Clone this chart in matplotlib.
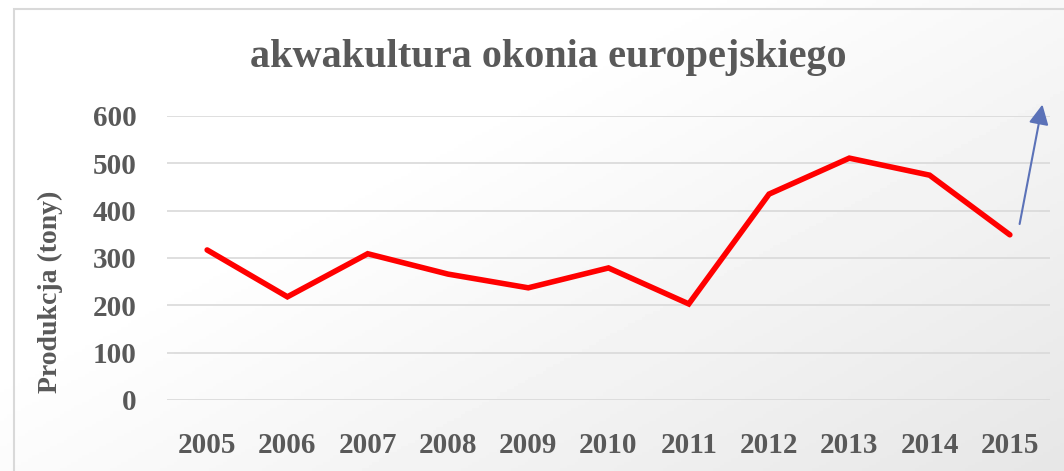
import numpy as np
import matplotlib.pyplot as plt
from matplotlib.patches import Rectangle

# Data
years = ['2005', '2006', '2007', '2008', '2009', '2010',
         '2011', '2012', '2013', '2014', '2015']
production = [317, 218, 309, 266, 237, 279, 203, 435, 511, 475, 349]
yticks = [0, 100, 200, 300, 400, 500, 600]

title = 'akwakultura okonia europejskiego'
ylabel = 'Produkcja (tony)'
text_color = '#595959'

plt.rcParams['font.family'] = ['Liberation Serif', 'DejaVu Serif']

fig = plt.figure(figsize=(10.64, 4.71), dpi=100)

# background gradient (white top-left to light gray bottom-right)
bg = fig.add_axes([0, 0, 1, 1], zorder=0)
gx, gy = np.meshgrid(np.linspace(0, 1, 300), np.linspace(0, 1, 150))
g = np.clip(0.55 * gx + 0.45 * gy - 0.35, 0, 1)
bg.imshow(1 - 0.15 * g, cmap='gray', vmin=0, vmax=1, aspect='auto',
          extent=[0, 1, 0, 1], origin='upper')
bg.add_patch(Rectangle((14 / 1064, -0.1), 1.2, (471 - 9) / 471 + 0.1,
                       fill=False, edgecolor='#d9d9d9', linewidth=1.5))
bg.set_xlim(0, 1)
bg.set_ylim(0, 1)
bg.axis('off')

ax = fig.add_axes([167 / 1064, (471 - 400) / 471, (1050 - 167) / 1064,
                   (400 - 116) / 471], zorder=1)
ax.patch.set_alpha(0)
x = np.arange(len(years))
ax.plot(x, production, color='#ff0000', linewidth=4,
        solid_capstyle='round', solid_joinstyle='miter', zorder=3)

ax.set_xlim(-0.5, len(years) - 0.5)
ax.set_ylim(0, 600)
ax.set_yticks(yticks)
ax.set_xticks(x)
ax.set_xticklabels(years)
ax.grid(axis='y', color='#d9d9d9', linewidth=1.2)
ax.set_axisbelow(True)
for s in ax.spines.values():
    s.set_visible(False)
ax.tick_params(length=0, labelsize=21, labelcolor=text_color)
ax.tick_params(axis='x', pad=23)
ax.tick_params(axis='y', pad=22)
for lab in ax.get_xticklabels() + ax.get_yticklabels():
    lab.set_fontweight('bold')

fig.text(50 / 1064, 1 - 292 / 471, ylabel, fontsize=20, fontweight='bold',
         color=text_color, ha='center', va='center', rotation=90)
fig.text(548 / 1064, 1 - 57 / 471, title, fontsize=29, fontweight='bold',
         color=text_color, ha='center', va='center')

# blue arrow
ax.annotate('', xy=(0.992, 1.05), xytext=(0.965, 0.61),
            xycoords='axes fraction', textcoords='axes fraction',
            arrowprops=dict(arrowstyle='-|>', color='#5b72b8', lw=1.5,
                            mutation_scale=30), annotation_clip=False)

fig.savefig('out.png', dpi=100)
